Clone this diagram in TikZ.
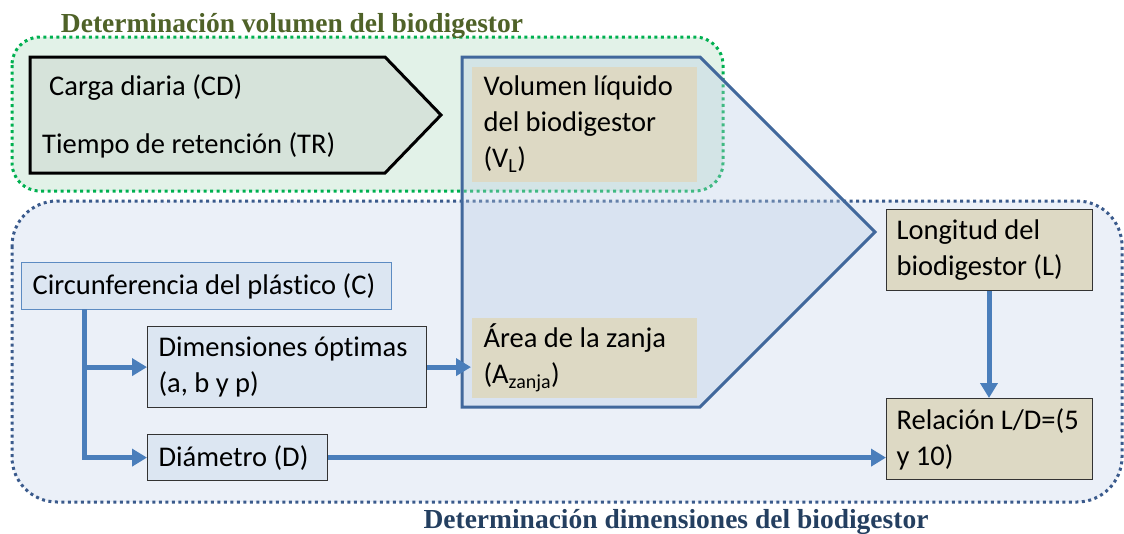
\documentclass[tikz,border=0pt]{standalone}
\usepackage{fontspec}
\setmainfont{Carlito}[RawFeature={-liga;-clig;-calt;-dlig}]
\newfontfamily\titlefont{Liberation Serif}
\usetikzlibrary{arrows.meta}

\definecolor{zonaverde}{HTML}{00B050}
\definecolor{zonaazul}{HTML}{3A5A8C}
\definecolor{fondoverde}{HTML}{E2F2E8}
\definecolor{fondoazul}{HTML}{EBF0F8}
\definecolor{flechanegra}{HTML}{D6E3DA}
\definecolor{bordeazul}{HTML}{41689C}
\definecolor{rellenoazul}{HTML}{B8CCE4}
\definecolor{cajaazul}{HTML}{DCE6F2}
\definecolor{cajatan}{HTML}{DDD9C4}
\definecolor{conector}{HTML}{4A7EBB}
\definecolor{tituloverde}{HTML}{4F6228}
\definecolor{tituloazul}{HTML}{243F60}

\tikzset{
  caja/.style={anchor=north west, align=flush left, inner xsep=11pt, inner ysep=0pt, line width=1.2pt},
  cajaclara/.style={caja, fill=cajaazul, draw=black!80},
  cajatierra/.style={caja, fill=cajatan},
  flecha/.style={line width=5pt, draw=conector, -{Triangle[length=15pt,width=17pt]}},
  titulo/.style={anchor=base, font=\titlefont\bfseries\fontsize{27.5}{30}\selectfont}
}

\begin{document}
\begin{tikzpicture}[x=1pt,y=-1pt,font=\fontsize{28.5}{36}\selectfont]
\useasboundingbox (0,0) rectangle (1124,533);

\fill[fondoverde] (12,37) [rounded corners=28pt] rectangle (723,191);
\draw[zonaverde, line width=3pt, dash pattern=on 3pt off 3.5pt, rounded corners=28pt] (12,37) rectangle (723,191);
\fill[fondoazul] (12,201) [rounded corners=45pt] rectangle (1122,502);
\draw[zonaazul, line width=3pt, dash pattern=on 3pt off 3.5pt, rounded corners=45pt] (12,201) rectangle (1122,502);

\node[titulo, text=tituloverde] (tvol) at (292,32) {Determinación volumen del biodigestor};
\node[titulo, text=tituloazul] (tdim) at (676,528) {Determinación dimensiones del biodigestor};

\draw[fill=flechanegra, line width=3pt, line join=miter] (30,57) -- (385,57) -- (441,115) -- (385,173) -- (30,173) -- cycle;
\node[anchor=west, inner sep=0pt] (cd) at (49,88) {Carga diaria (CD)};
\node[anchor=west, inner sep=0pt] (tr) at (42,145) {Tiempo de retención (TR)};

\draw[bordeazul, fill=rellenoazul, fill opacity=0.35, line width=3pt, line join=miter] (462,57) -- (700,57) -- (875,232) -- (700,407) -- (462,407) -- cycle;

\node[cajatierra, text width=201pt, minimum height=115pt, inner xsep=12pt] (vl) at (471,66) {Volumen líquido\\del biodigestor\\(V\textsubscript{L})};
\node[cajatierra, text width=201pt, minimum height=80pt, inner xsep=12pt] (az) at (471,317) {Área de la zanja\\(A\textsubscript{zanja})};

\node[caja, fill=cajaazul, draw=conector!90, text width=348pt, minimum height=47pt] (circ) at (21,262) {Circunferencia del plástico (C)};
\node[cajaclara, text width=257pt, minimum height=81pt] (dim) at (147,326) {\mbox{Dimensiones óptimas}\\(a, b y p)};
\node[cajaclara, text width=158pt, minimum height=46pt] (diam) at (147,434) {Diámetro (D)};

\node[cajatierra, draw=black!80, text width=186pt, minimum height=81pt, inner xsep=10pt] (lon) at (886,209) {Longitud del\\\mbox{biodigestor (L)}};
\node[cajatierra, draw=black!80, text width=186pt, minimum height=81pt, inner xsep=10pt] (rel) at (886,398) {\mbox{Relación L/D=(5}\\y 10)};

\coordinate (tronco) at (84,309);
\draw[flecha] (tronco) |- (dim.west);
\draw[flecha] (tronco) |- (diam.west);
\draw[flecha] (dim.east) -- (dim.east -| az.west);
\draw[flecha] (diam.east) -- (diam.east -| rel.west);
\draw[flecha] (lon.south -| 989,0) -- (rel.north -| 989,0);
\end{tikzpicture}
\end{document}
